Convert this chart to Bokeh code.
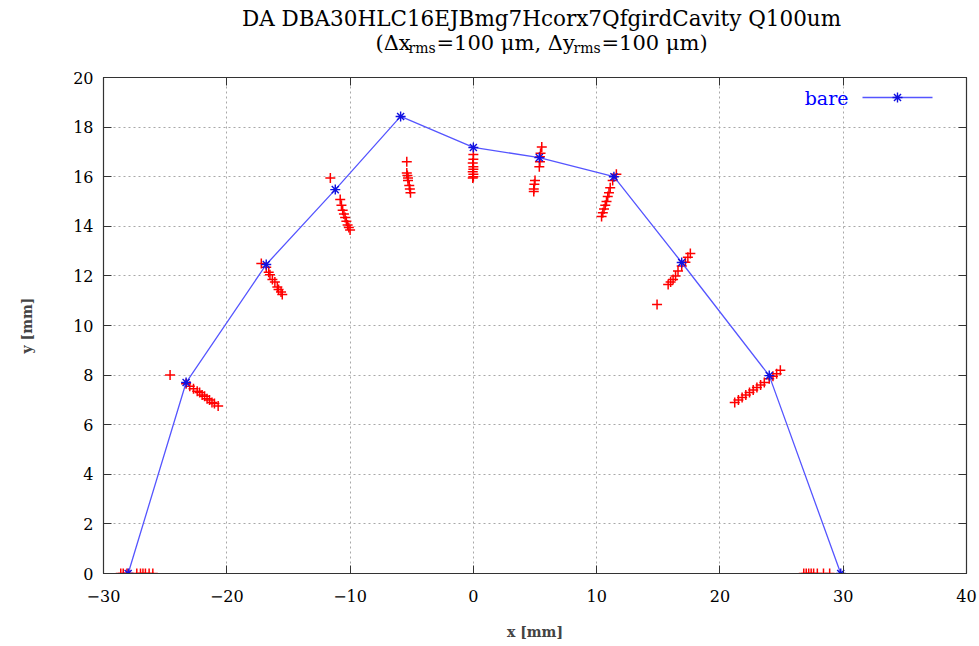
from bokeh.plotting import figure
from bokeh.layouts import column
from bokeh.models import Label, LinearAxis, FixedTicker, Range1d, CustomJSTickFormatter
from bokeh.core.properties import value
from bokeh.embed import file_html
from bokeh.resources import INLINE

# Bare-lattice dynamic aperture boundary [mm]
bare_x = [-28.0, -23.3, -16.8, -11.2, -5.9, 0.0, 5.35, 11.4, 16.9, 24.0, 29.8]
bare_y = [0.0, 7.7, 12.46, 15.48, 18.43, 17.18, 16.77, 16.0, 12.54, 7.98, 0.0]

# Aperture points of the seeds with misalignment errors [mm]
err_x = [
    -28.6, -28.4, -28.1, -27.9, -27.3, -27.0, -26.8, -26.6, -26.3, -26.0,
    -24.6, -23.3, -23.0, -22.7, -22.4, -22.2, -22.0, -21.8, -21.6, -21.4, -21.2, -21.0, -20.7,
    -17.2, -16.8, -16.6, -16.5, -16.3, -16.1, -15.9, -15.8, -15.6, -15.5,
    -11.6, -10.8, -10.7, -10.6, -10.5, -10.4, -10.3, -10.2, -10.1, -10.0,
    -5.4, -5.4, -5.35, -5.3, -5.3, -5.2, -5.15, -5.1,
    0.0, 0.0, -0.05, 0.0, 0.0, -0.05, 0.0, 0.0, -0.05,
    5.55, 5.45, 5.4, 5.4, 5.35, 5.0, 4.95, 4.9, 4.9,
    11.6, 11.3, 11.1, 11.0, 10.9, 10.8, 10.7, 10.6, 10.5, 10.4,
    17.6, 17.4, 17.2, 16.9, 16.6, 16.4, 16.2, 16.0, 15.8, 14.9,
    24.9, 24.6, 24.3, 24.0, 23.6, 23.3, 23.0, 22.7, 22.4, 22.1, 21.8, 21.5, 21.2,
    26.8, 27.0, 27.2, 27.4, 27.6, 27.9, 28.4, 28.9,
]
err_y = [
    0.0, 0.0, 0.0, 0.0, 0.0, 0.0, 0.0, 0.0, 0.0, 0.0,
    8.0, 7.65, 7.55, 7.45, 7.35, 7.3, 7.2, 7.15, 7.05, 7.0, 6.9, 6.85, 6.75,
    12.5, 12.35, 12.15, 12.05, 11.85, 11.75, 11.55, 11.45, 11.35, 11.25,
    15.95, 15.08, 14.85, 14.65, 14.5, 14.35, 14.2, 14.05, 13.95, 13.85,
    16.6, 16.15, 16.05, 15.95, 15.85, 15.65, 15.5, 15.35,
    16.9, 16.7, 16.55, 16.4, 16.3, 16.2, 16.1, 16.0, 15.95,
    17.2, 16.95, 16.8, 16.6, 16.4, 15.85, 15.7, 15.5, 15.4,
    16.1, 15.85, 15.55, 15.35, 15.2, 15.0, 14.85, 14.7, 14.55, 14.4,
    12.9, 12.75, 12.55, 12.4, 12.2, 12.0, 11.85, 11.75, 11.65, 10.85,
    8.2, 8.05, 7.95, 7.85, 7.7, 7.6, 7.5, 7.4, 7.3, 7.2, 7.1, 7.0, 6.9,
    0.0, 0.0, 0.0, 0.0, 0.0, 0.0, 0.0, 0.0,
]

x_ticks = [-30, -20, -10, 0, 10, 20, 30, 40]
y_ticks = [0, 2, 4, 6, 8, 10, 12, 14, 16, 18, 20]

title_text = "DA DBA30HLC16EJBmg7Hcorx7QfgirdCavity Q100um"
legend_text = "bare"

W, H = 979, 646
HEAD = 60                      # height of the title strip
L, R, T, B = 103, 13, 77, 73   # plot-frame margins on the full page
FONT = "DejaVu Serif"

# ---- title strip: pixel units, frame aligned with the plot frame below ----
head = figure(width=W, height=HEAD, x_range=Range1d(L, W - R), y_range=Range1d(HEAD, 0),
              output_backend="svg", toolbar_location=None,
              min_border=0, min_border_left=L, min_border_right=R,
              outline_line_color=None)
head.axis.visible = False
head.grid.visible = False


def htext(text, px, py, size, align="left"):
    head.text(x=[px], y=[py], text=[text], text_font=value(FONT),
              text_font_size=value(size), text_color="black",
              text_align=align, text_baseline="middle")


htext(title_text, 541, 18, "21.5px", align="center")
htext("(\u0394x", 375, 42, "21px")
htext("rms", 408, 47, "14px")
htext("=100 \u03bcm, \u0394y", 436, 42, "21px")
htext("rms", 573, 47, "14px")
htext("=100 \u03bcm)", 601, 42, "21px")

# ---- main plot ----
p = figure(width=W, height=H - HEAD, x_range=Range1d(-30, 40), y_range=Range1d(0, 20),
           output_backend="svg", toolbar_location=None,
           min_border_left=L, min_border_right=R, min_border_top=T - HEAD,
           min_border_bottom=B)
p.background_fill_color = "white"
p.border_fill_color = "white"
p.outline_line_color = "#333333"
p.outline_line_width = 1.2

for ax in (p.xaxis[0], p.yaxis[0]):
    ax.major_label_text_font = FONT
    ax.major_label_text_font_size = "16px"
    ax.major_label_text_color = "black"
    ax.axis_label_text_font = FONT
    ax.axis_label_text_font_size = "14px"
    ax.axis_label_text_font_style = "bold"
    ax.major_tick_in = 8
    ax.major_tick_out = 0
    ax.minor_tick_line_color = None
    ax.axis_line_color = "#333333"
    ax.major_tick_line_color = "#333333"

p.xaxis.ticker = FixedTicker(ticks=x_ticks)
p.yaxis.ticker = FixedTicker(ticks=y_ticks)
p.xaxis.axis_label = "x [mm]"
p.yaxis.axis_label = "y [mm]"
p.xaxis.major_label_standoff = 16
p.yaxis.major_label_standoff = 10
p.xaxis.axis_label_standoff = 19
p.yaxis.axis_label_standoff = 35

# mirrored ticks on the top and right borders
blank = CustomJSTickFormatter(code="return ''")
top = LinearAxis(ticker=FixedTicker(ticks=x_ticks), formatter=blank,
                 major_tick_in=8, major_tick_out=0, minor_tick_line_color=None,
                 axis_line_color="#333333", major_tick_line_color="#333333",
                 major_label_standoff=0)
right = LinearAxis(ticker=FixedTicker(ticks=y_ticks), formatter=blank,
                   major_tick_in=8, major_tick_out=0, minor_tick_line_color=None,
                   axis_line_color="#333333", major_tick_line_color="#333333",
                   major_label_standoff=0)
p.add_layout(top, "above")
p.add_layout(right, "right")

p.xgrid.ticker = FixedTicker(ticks=x_ticks)
p.ygrid.ticker = FixedTicker(ticks=y_ticks)
p.grid.grid_line_color = "#a8a8a8"
p.grid.grid_line_dash = "2 3"
p.grid.grid_line_width = 1

# error seeds
p.scatter(err_x, err_y, marker="cross", size=10, line_color="#ff0000", line_width=1.5)

# bare lattice
p.line(bare_x, bare_y, line_color="#5555ff", line_width=1.3)
p.scatter(bare_x, bare_y, marker="asterisk", size=10, line_color="#1010e0", line_width=1.4)

# key: text on the left, line sample on the right
p.add_layout(Label(x=848 - L, y=(H - B) - 97, x_units="screen", y_units="screen",
                   text=legend_text, text_font=FONT, text_font_size="19px",
                   text_color="#0000ff", text_align="right", text_baseline="middle"))


def to_x(px):
    return -30 + (px - L) * 70 / (W - L - R)


def to_y(py):
    return (H - B - py) * 20 / (H - T - B)


p.line([to_x(862), to_x(932)], [to_y(97), to_y(97)], line_color="#5555ff", line_width=1.3)
p.scatter([to_x(897)], [to_y(97)], marker="asterisk", size=10, line_color="#1010e0", line_width=1.4)

page = column(head, p, spacing=0)
open("out.html", "w").write(file_html(page, INLINE))
